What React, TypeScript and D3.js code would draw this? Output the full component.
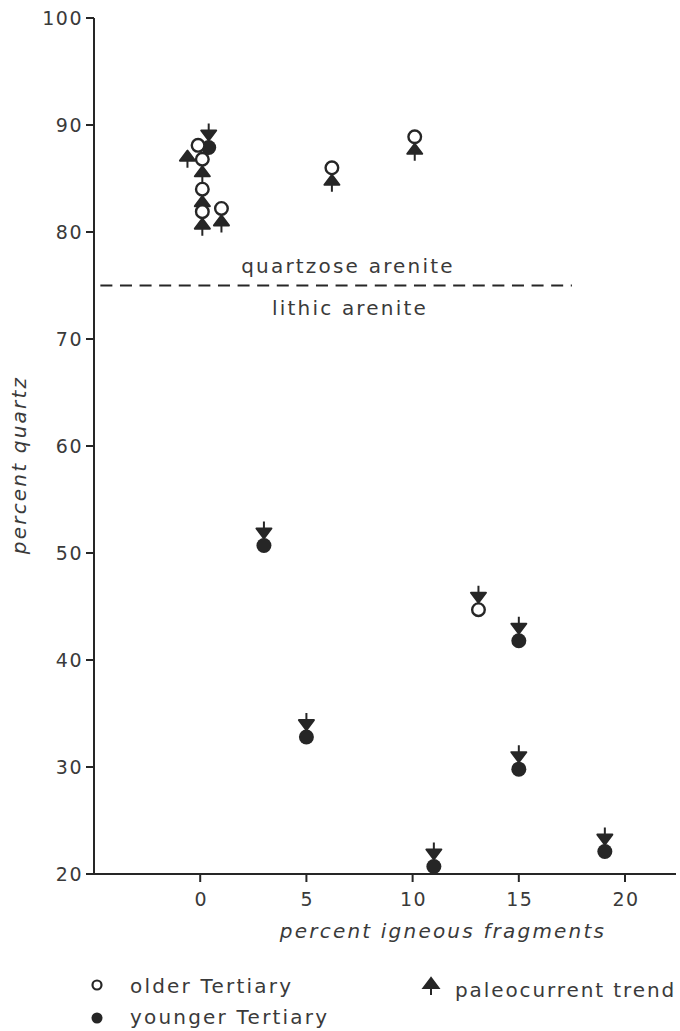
import React from "react";
import * as d3 from "d3";

// values (percent igneous fragments, percent quartz)
const olderX = [-0.1, 0.1, 0.1, 0.1, 1.0, 6.2, 10.1, 13.1];
const olderY = [88.1, 86.8, 84.0, 81.9, 82.2, 86.0, 88.9, 44.7];
const olderTrend = ["none", "up", "up", "up", "up", "up", "up", "down"];

const youngerX = [0.4, 3.0, 5.0, 15.0, 15.0, 11.0, 19.05];
const youngerY = [87.9, 50.7, 32.8, 41.8, 29.8, 20.7, 22.1];
const youngerTrend = ["down", "down", "down", "down", "down", "down", "down"];

// one arrow standing apart from its sample (apex position)
const looseArrowX = [-0.6];
const looseArrowY = [87.6];

const xTicks = [0, 5, 10, 15, 20];
const yTicks = [20, 30, 40, 50, 60, 70, 80, 90, 100];
const boundaryQuartz = 75;
const boundaryFrom = -4.7;
const boundaryTo = 17.5;

const width = 680;
const height = 1031;
const ink = "#262626";
const textInk = "#3a3a3a";
const font = "'DejaVu Sans', sans-serif";

export default function App() {
  const x = d3.scaleLinear().domain([-5, 22.4]).range([94, 676]);
  const y = d3.scaleLinear().domain([20, 100]).range([874, 18]);

  const r = 7;
  const triH = 10;
  const triW = 7.5;
  const stem = 7;

  const arrowPath = (cx: number, apex: number, dir: string) => {
    const s = dir === "up" ? 1 : -1;
    return (
      `M${cx},${apex}L${cx - triW},${apex + s * triH}L${cx + triW},${apex + s * triH}Z` +
      `M${cx},${apex + s * triH}L${cx},${apex + s * (triH + stem)}`
    );
  };

  const older = olderX.map((v, i) => ({ x: v, y: olderY[i], trend: olderTrend[i] }));
  const younger = youngerX.map((v, i) => ({ x: v, y: youngerY[i], trend: youngerTrend[i] }));
  const all = [...younger, ...older];

  const attachedArrows = all
    .filter((d) => d.trend !== "none")
    .map((d) => {
      const cx = x(d.x);
      const cy = y(d.y);
      const apex = d.trend === "up" ? cy + r : cy - r;
      return arrowPath(cx, apex, d.trend);
    });
  const looseArrows = looseArrowX.map((v, i) => arrowPath(x(v), y(looseArrowY[i]), "up"));

  const textStyle = { fontFamily: font, fill: textInk };
  const spaced = { ...textStyle, letterSpacing: "2.2px" };

  return (
    <svg
      width={width}
      height={height}
      viewBox={`0 0 ${width} ${height}`}
      style={{ position: "absolute", left: 0, top: 0, background: "#fff" }}
    >
      <rect width={width} height={height} fill="#fff" />

      {/* axes */}
      <g stroke={ink} strokeWidth={2} fill="none">
        <line x1={x(-5)} x2={x(-5)} y1={y(100)} y2={y(20)} />
        <line x1={x(-5)} x2={x(22.4)} y1={y(20)} y2={y(20)} />
        {yTicks.map((t) => (
          <line key={t} x1={x(-5) - 8} x2={x(-5)} y1={y(t)} y2={y(t)} />
        ))}
        {xTicks.map((t) => (
          <line key={t} x1={x(t)} x2={x(t)} y1={y(20)} y2={y(20) + 8} />
        ))}
      </g>
      <g style={{ ...textStyle, letterSpacing: "1.5px" }} fontSize={19}>
        {yTicks.map((t) => (
          <text key={t} x={x(-5) - 11} y={y(t)} dy="0.36em" textAnchor="end">
            {t}
          </text>
        ))}
        {xTicks.map((t) => (
          <text key={t} x={x(t) + 1} y={y(20) + 32} textAnchor="middle">
            {t}
          </text>
        ))}
      </g>
      <text style={spaced} fontSize={20} fontStyle="italic" x={443} y={938} textAnchor="middle">
        percent igneous fragments
      </text>
      <text
        style={spaced}
        fontSize={20}
        fontStyle="italic"
        textAnchor="middle"
        transform="translate(26,465) rotate(-90)"
      >
        percent quartz
      </text>

      {/* quartzose / lithic boundary */}
      <line
        x1={x(boundaryFrom)}
        x2={x(boundaryTo)}
        y1={y(boundaryQuartz)}
        y2={y(boundaryQuartz)}
        stroke={ink}
        strokeWidth={2}
        strokeDasharray="12 7.6"
      />
      <g style={spaced} fontSize={20} textAnchor="middle">
        <text x={348} y={y(boundaryQuartz) - 13}>quartzose arenite</text>
        <text x={350} y={y(boundaryQuartz) + 29}>lithic arenite</text>
      </g>

      {/* paleocurrent arrows */}
      <g fill={ink} stroke={ink} strokeWidth={2} strokeLinejoin="round">
        {[...attachedArrows, ...looseArrows].map((p, i) => (
          <path key={i} d={p} />
        ))}
      </g>

      {/* samples */}
      <g>
        {younger.map((d, i) => (
          <circle key={`y${i}`} cx={x(d.x)} cy={y(d.y)} r={r + 0.5} fill={ink} />
        ))}
        {older.map((d, i) => (
          <circle
            key={`o${i}`}
            cx={x(d.x)}
            cy={y(d.y)}
            r={r - 0.7}
            fill="#fff"
            stroke={ink}
            strokeWidth={2.4}
          />
        ))}
      </g>

      {/* legend */}
      <g style={spaced} fontSize={20}>
        <circle cx={97} cy={985} r={4.5} fill="#fff" stroke={ink} strokeWidth={2.2} />
        <text x={130} y={993}>older Tertiary</text>
        <circle cx={97} cy={1018} r={5.5} fill={ink} />
        <text x={130} y={1024}>younger Tertiary</text>
        <path d={arrowPath(431, 978, "up")} fill={ink} stroke={ink} strokeWidth={2} />
        <text x={455} y={997} style={{ ...textStyle, letterSpacing: "1.9px" }}>
          paleocurrent trend
        </text>
      </g>
    </svg>
  );
}
